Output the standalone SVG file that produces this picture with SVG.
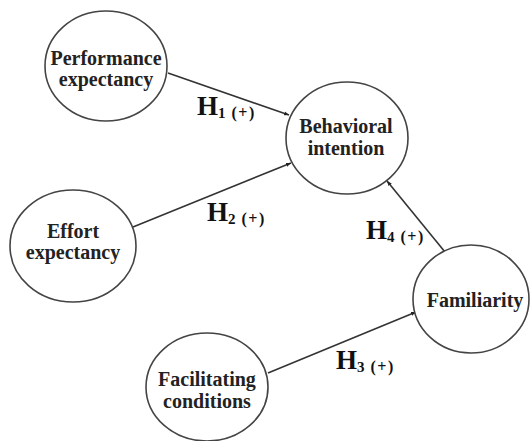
<svg xmlns="http://www.w3.org/2000/svg" width="530" height="441" viewBox="0 0 530 441">
<style>
.node{fill:#fff;stroke:#444;stroke-width:1.6}
.lbl{font-family:"Liberation Serif","Times New Roman",serif;font-weight:bold;font-size:20px;fill:#222;text-anchor:middle}
.conn{stroke:#333;stroke-width:1.6;fill:none;marker-end:url(#ah)}
.h{font-family:"Liberation Serif","Times New Roman",serif;font-weight:bold;fill:#111}
.hb{font-size:27px}
.hs{font-size:15px}
.hp{font-size:16px;letter-spacing:1.5px}
</style>
<defs>
<marker id="ah" viewBox="0 0 10 10" refX="10" refY="5" markerWidth="5" markerHeight="5" orient="auto" markerUnits="userSpaceOnUse">
<path d="M0,1 L10,5 L0,9 Z" fill="#222"/>
</marker>
</defs>
<rect width="530" height="441" fill="#fff"/>
<g id="connectors">
<line class="conn" x1="168" y1="73" x2="289" y2="115"/>
<line class="conn" x1="133" y1="227" x2="291" y2="163"/>
<line class="conn" x1="445" y1="252" x2="387" y2="181"/>
<line class="conn" x1="268" y1="373" x2="416" y2="312"/>
</g>
<g id="n-performance">
<ellipse class="node" cx="106" cy="66" rx="61" ry="55"/>
<text class="lbl" x="106" y="65">Performance</text>
<text class="lbl" x="106" y="86">expectancy</text>
</g>
<g id="n-behavioral">
<ellipse class="node" cx="347" cy="138" rx="61" ry="56"/>
<text class="lbl" x="346" y="133">Behavioral</text>
<text class="lbl" x="346" y="155">intention</text>
</g>
<g id="n-effort">
<ellipse class="node" cx="73" cy="246" rx="63" ry="56"/>
<text class="lbl" x="73" y="238">Effort</text>
<text class="lbl" x="73" y="259">expectancy</text>
</g>
<g id="n-familiarity">
<ellipse class="node" cx="471" cy="299" rx="58" ry="54"/>
<text class="lbl" x="475" y="307">Familiarity</text>
</g>
<g id="n-facilitating">
<ellipse class="node" cx="207" cy="387" rx="61" ry="54"/>
<text class="lbl" x="207" y="386">Facilitating</text>
<text class="lbl" x="207" y="408">conditions</text>
</g>
<g id="labels">
<text class="h" x="197" y="115"><tspan class="hb">H</tspan><tspan class="hs" dy="3">1</tspan><tspan class="hp" dx="6">(+)</tspan></text>
<text class="h" x="207" y="221"><tspan class="hb">H</tspan><tspan class="hs" dy="3">2</tspan><tspan class="hp" dx="6">(+)</tspan></text>
<text class="h" x="366" y="239"><tspan class="hb">H</tspan><tspan class="hs" dy="3">4</tspan><tspan class="hp" dx="6">(+)</tspan></text>
<text class="h" x="336" y="369"><tspan class="hb">H</tspan><tspan class="hs" dy="3">3</tspan><tspan class="hp" dx="6">(+)</tspan></text>
</g>
</svg>
